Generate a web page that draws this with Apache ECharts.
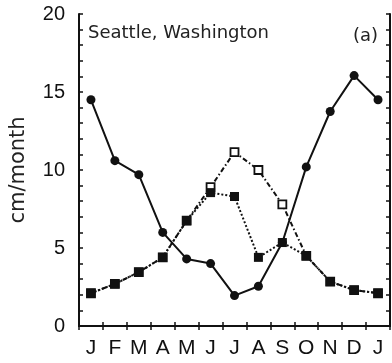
<!DOCTYPE html>
<html><head><meta charset="utf-8">
<script src="https://cdn.jsdelivr.net/npm/echarts@6/dist/echarts.min.js"></script>
<style>html,body{margin:0;padding:0;background:#fff}#c{width:392px;height:363px}</style>
</head><body><div id="c"></div>
<script>
const months = ['J','F','M','A','M','J','J','A','S','O','N','D','J'];
const yTicks = [0, 5, 10, 15, 20];
const precipitation = [14.5, 10.6, 9.7, 6.0, 4.3, 4.0, 1.95, 2.55, 5.35, 10.2, 13.75, 16.05, 14.5];
const potentialET   = [2.1, 2.7, 3.45, 4.4, 6.75, 8.9, 11.15, 10.0, 7.8, 4.5, 2.85, 2.3, 2.1];
const actualET      = [2.1, 2.7, 3.45, 4.4, 6.75, 8.55, 8.3, 4.4, 5.35, 4.5, 2.85, 2.3, 2.1];
const titleText = 'Seattle, Washington';
const panelText = '(a)';
const yName = 'cm/month';

const chart = echarts.init(document.getElementById('c'), null, {renderer: 'canvas'});
const axLine = {show: true, lineStyle: {color: '#111', width: 2}};
const tickStyle = {color: '#111', width: 1.5};
chart.setOption({
  animation: false,
  backgroundColor: '#fff',
  grid: {left: 76, top: 14, width: 314, height: 312, containLabel: false},
  xAxis: [
    {type: 'category', data: months, boundaryGap: true, position: 'bottom',
     axisLine: axLine, axisTick: {show: true, inside: true, length: 4, lineStyle: tickStyle},
     axisLabel: {show: true, margin: 12, color: '#111', fontSize: 21, fontFamily: 'Liberation Sans', interval: 0},
     splitLine: {show: false}},
    {type: 'category', data: months, boundaryGap: true, position: 'top',
     axisLine: axLine, axisTick: {show: true, inside: true, length: 4, lineStyle: tickStyle},
     axisLabel: {show: false}, splitLine: {show: false}}
  ],
  yAxis: [
    {type: 'value', min: yTicks[0], max: yTicks[yTicks.length - 1], interval: 5, position: 'left',
     name: yName, nameLocation: 'middle', nameRotate: 90, nameGap: 50,
     nameTextStyle: {fontSize: 21, fontFamily: 'DejaVu Sans', color: '#222'},
     axisLine: axLine, axisTick: {show: true, inside: true, length: 4, lineStyle: tickStyle},
     minorTick: {show: true, splitNumber: 5, length: 4, lineStyle: tickStyle},
     axisLabel: {show: true, margin: 14, color: '#111', fontSize: 20, fontFamily: 'Liberation Sans'},
     splitLine: {show: false}, minorSplitLine: {show: false}},
    {type: 'value', min: yTicks[0], max: yTicks[yTicks.length - 1], interval: 5, position: 'right',
     axisLine: axLine, axisTick: {show: true, inside: true, length: 4, lineStyle: tickStyle},
     minorTick: {show: true, splitNumber: 5, length: 4, lineStyle: tickStyle},
     axisLabel: {show: false}, splitLine: {show: false}, minorSplitLine: {show: false}}
  ],
  series: [
    {name: 'Precipitation', type: 'line', data: precipitation, xAxisIndex: 0, yAxisIndex: 0,
     symbol: 'circle', symbolSize: 9, itemStyle: {color: '#111'},
     lineStyle: {color: '#111', width: 2, type: 'solid'}, z: 2},
    {name: 'Potential ET', type: 'line', data: potentialET, xAxisIndex: 0, yAxisIndex: 0,
     symbol: 'rect', symbolSize: 8, itemStyle: {color: '#fff', borderColor: '#111', borderWidth: 1.8},
     lineStyle: {color: '#111', width: 2, type: [5, 2.5, 1.5, 2.5]}, z: 3},
    {name: 'Actual ET', type: 'line', data: actualET, xAxisIndex: 0, yAxisIndex: 0,
     symbol: 'rect', symbolSize: 9, itemStyle: {color: '#111'},
     lineStyle: {color: '#111', width: 2, type: [2, 2]}, z: 4}
  ],
  graphic: [
    {type: 'text', x: 88, y: 33, style: {text: titleText, font: '18px "DejaVu Sans"', fill: '#222', verticalAlign: 'middle'}},
    {type: 'text', x: 378, y: 36, style: {text: panelText, font: '18px "DejaVu Sans"', fill: '#222', align: 'right', verticalAlign: 'middle'}}
  ]
});
</script></body></html>
